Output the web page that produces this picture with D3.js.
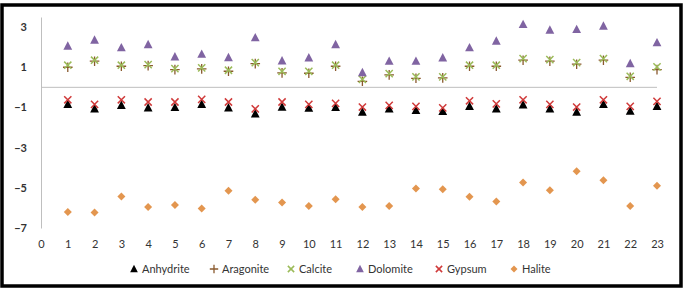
<!DOCTYPE html>
<html>
<head>
<meta charset="utf-8">
<script src="https://cdn.jsdelivr.net/npm/d3@7"></script>
<style>
  body { margin: 0; background: #fff; }
  svg text { font-family: Lato, "Open Sans", sans-serif; fill: #333; }
</style>
</head>
<body>
<div id="chart"></div>
<script>
// Samples 1..23
const samples = d3.range(1, 24);

const anhydrite = [-0.85, -1.07, -0.9, -1.02, -1.0, -0.85, -1.02, -1.32, -0.98, -1.03, -1.0, -1.23,
    -1.07, -1.15, -1.2, -0.95, -1.07, -0.87, -1.07, -1.23, -0.85, -1.18, -0.95];
const aragonite = [1.0, 1.3, 1.05, 1.08, 0.88, 0.92, 0.8, 1.18, 0.72, 0.7, 1.05, 0.3,
    0.62, 0.45, 0.47, 1.05, 1.05, 1.35, 1.3, 1.15, 1.35, 0.5, 0.88];
const calcite = [1.1, 1.35, 1.1, 1.13, 0.93, 0.97, 0.85, 1.23, 0.8, 0.8, 1.1, 0.4,
    0.68, 0.52, 0.52, 1.1, 1.1, 1.43, 1.38, 1.23, 1.43, 0.55, 1.02];
const dolomite = [2.05, 2.35, 1.97, 2.13, 1.52, 1.65, 1.48, 2.47, 1.32, 1.47, 2.13, 0.73,
    1.3, 1.3, 1.47, 1.97, 2.3, 3.13, 2.85, 2.88, 3.05, 1.18, 2.22];
const gypsum = [-0.62, -0.85, -0.62, -0.73, -0.73, -0.6, -0.73, -1.07, -0.73, -0.85, -0.8, -0.98,
    -0.9, -0.95, -1.02, -0.67, -0.82, -0.62, -0.85, -0.98, -0.62, -0.95, -0.7];
const halite = [-6.2, -6.23, -5.43, -5.95, -5.85, -6.03, -5.15, -5.6, -5.73, -5.9, -5.57, -5.95,
    -5.9, -5.03, -5.07, -5.45, -5.68, -4.73, -5.12, -4.17, -4.63, -5.9, -4.9];

const xTicks = d3.range(0, 24);
const yTicks = [-7, -5, -3, -1, 1, 3];

const series = [
    { name: "Anhydrite", values: anhydrite, shape: "triangle", color: "#000000" },
    { name: "Aragonite", values: aragonite, shape: "plus", color: "#8a5a2e" },
    { name: "Calcite", values: calcite, shape: "x", color: "#9bbb59" },
    { name: "Dolomite", values: dolomite, shape: "triangle", color: "#8064a2" },
    { name: "Gypsum", values: gypsum, shape: "x", color: "#d03a3a" },
    { name: "Halite", values: halite, shape: "diamond", color: "#e3964f" }
];

const width = 685, height = 292;
const svg = d3.select("#chart").append("svg")
    .attr("width", width)
    .attr("height", height);

// Outer frame
svg.append("rect")
    .attr("x", 2).attr("y", 5)
    .attr("width", 679).attr("height", 281)
    .attr("fill", "none")
    .attr("stroke", "#000")
    .attr("stroke-width", 3.5);

const x = d3.scaleLinear().domain([0, 23]).range([41, 657]);
const y = d3.scaleLinear().domain([-7, 3.5]).range([228, 17]);

// Y axis
const yAxis = svg.append("g")
    .attr("transform", `translate(${x(0)},0)`)
    .call(d3.axisLeft(y).tickValues(yTicks).tickSize(0).tickPadding(14));
yAxis.select(".domain").attr("stroke", "#bfbfbf");
yAxis.selectAll("text").style("font-size", "11px").style("font-weight", "bold").attr("fill", "#333");

// X axis labels (below plot, no line)
const xAxis = svg.append("g")
    .attr("transform", `translate(0,${y(-7)})`)
    .call(d3.axisBottom(x).tickValues(xTicks).tickSize(0).tickPadding(12));
xAxis.select(".domain").remove();
xAxis.selectAll("text").style("font-size", "11px").attr("fill", "#333");

// Zero line
svg.append("line")
    .attr("x1", x(0)).attr("x2", x(23))
    .attr("y1", y(0)).attr("y2", y(0))
    .attr("stroke", "#bfbfbf")
    .attr("stroke-width", 1);

function drawMarker(g, shape, color, s) {
    if (shape === "triangle") {
        g.append("path")
            .attr("d", `M0,${-s * 0.6}L${s * 0.55},${s * 0.45}L${-s * 0.55},${s * 0.45}Z`)
            .attr("fill", color);
    } else if (shape === "diamond") {
        g.append("path")
            .attr("d", `M0,${-s * 0.5}L${s * 0.5},0L0,${s * 0.5}L${-s * 0.5},0Z`)
            .attr("fill", color);
    } else if (shape === "plus") {
        g.append("path")
            .attr("d", `M${-s * 0.6},0H${s * 0.6}M0,${-s * 0.6}V${s * 0.6}`)
            .attr("stroke", color).attr("stroke-width", 1.3);
    } else {
        g.append("path")
            .attr("d", `M${-s * 0.45},${-s * 0.45}L${s * 0.45},${s * 0.45}M${s * 0.45},${-s * 0.45}L${-s * 0.45},${s * 0.45}`)
            .attr("stroke", color).attr("stroke-width", 1.5);
    }
}

// Points
series.forEach(sr => {
    const grp = svg.append("g").attr("class", sr.name);
    sr.values.forEach((v, i) => {
        const g = grp.append("g")
            .attr("transform", `translate(${x(samples[i])},${y(v)})`);
        drawMarker(g, sr.shape, sr.color, 8);
    });
});

// Legend
const legendX = [132, 212, 289, 358, 437, 512];
const legend = svg.append("g").attr("transform", "translate(0,269)");
series.forEach((sr, i) => {
    const g = legend.append("g").attr("transform", `translate(${legendX[i]},0)`);
    drawMarker(g.append("g").attr("transform", "translate(2,0)"), sr.shape, sr.color, 7);
    g.append("text")
        .attr("x", 10).attr("y", 4)
        .style("font-size", "11px")
        .attr("fill", "#222")
        .text(sr.name);
});
</script>
</body>
</html>
